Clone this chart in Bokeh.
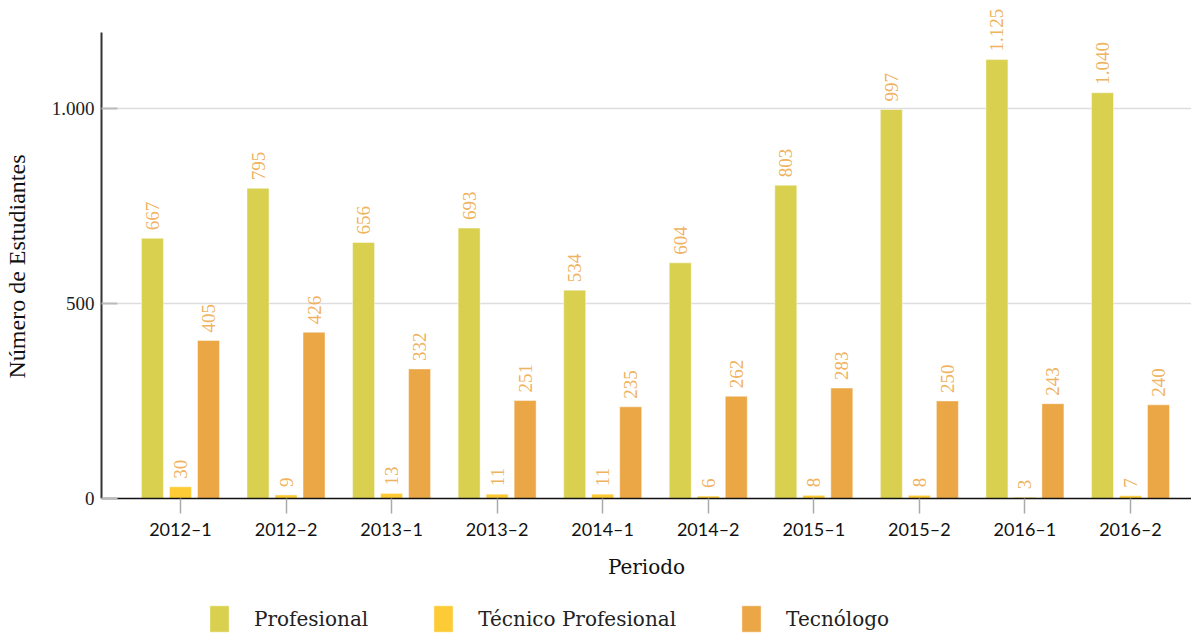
import math
from bokeh.plotting import figure
from bokeh.models import ColumnDataSource, FixedTicker, Range1d, Legend, LegendItem
from bokeh.transform import dodge
from bokeh.core.properties import value
from bokeh.embed import file_html
from bokeh.resources import INLINE

periods = ["2012–1", "2012–2", "2013–1", "2013–2", "2014–1",
           "2014–2", "2015–1", "2015–2", "2016–1", "2016–2"]
profesional = [667, 795, 656, 693, 534, 604, 803, 997, 1125, 1040]
tecnico = [30, 9, 13, 11, 11, 6, 8, 8, 3, 7]
tecnologo = [405, 426, 332, 251, 235, 262, 283, 250, 243, 240]
series_names = ["Profesional", "Técnico Profesional", "Tecnólogo"]
colors = ["#D9D04F", "#FCCB36", "#EBA746"]
y_ticks = [0, 500, 1000]
y_title = "Número de Estudiantes"
x_title = "Periodo"


def fmt(v):
    return f"{v:,}".replace(",", ".")


src = ColumnDataSource(dict(
    x=list(range(len(periods))),
    prof=profesional, tec=tecnico, tgo=tecnologo,
    prof_l=[fmt(v) for v in profesional],
    tec_l=[fmt(v) for v in tecnico],
    tgo_l=[fmt(v) for v in tecnologo],
))

# frame reaches down to the legend; x axis is pinned at y=0
p = figure(frame_width=1090, frame_height=630, output_backend="svg", toolbar_location=None,
           x_range=Range1d(-0.748, 9.578), y_range=Range1d(-359, 1256),
           min_border_top=8, min_border_right=0, min_border_left=100, min_border_bottom=0)
p.outline_line_color = None
p.background_fill_color = "white"
p.border_fill_color = "white"

offs = [-0.2653, 0.0, 0.2653]
cols = ["prof", "tec", "tgo"]
renderers = []
for off, c, col in zip(offs, cols, colors):
    r = p.vbar(x=dodge("x", off, range=p.x_range), top=c, width=0.2084, source=src,
               fill_color=col, line_color="white", line_alpha=0.45, line_width=1)
    renderers.append(r)
    p.text(x=dodge("x", off, range=p.x_range), y=c, text=c + "_l", source=src,
           angle=math.pi / 2, text_align="left", text_baseline="middle",
           y_offset=-8, text_font=value("Liberation Serif"), text_font_size="19px",
           text_color="#EEA94A", text_alpha=0.9)

# axes
xa = p.xaxis[0]
xa.fixed_location = 0
xa.ticker = FixedTicker(ticks=list(range(len(periods))))
xa.major_label_overrides = {i: s for i, s in enumerate(periods)}
xa.axis_line_color = "#111111"
xa.axis_line_width = 1.5
xa.major_tick_in = 0
xa.major_tick_out = 15
xa.major_tick_line_color = "#aaaaaa"
xa.major_tick_line_width = 1.5
xa.minor_tick_line_color = None
xa.major_label_text_font = "Lato"
xa.major_label_text_font_size = "18px"
xa.major_label_text_color = "#111111"
xa.major_label_standoff = 5
xa.axis_label = x_title
xa.axis_label_text_font = "DejaVu Serif"
xa.axis_label_text_font_size = "20px"
xa.axis_label_text_font_style = "normal"
xa.axis_label_text_color = "#111111"
xa.axis_label_standoff = 11

ya = p.yaxis[0]
ya.ticker = FixedTicker(ticks=y_ticks)
ya.bounds = (0, 1195)
ya.major_label_overrides = {t: fmt(t) for t in y_ticks}
ya.axis_line_color = "#333333"
ya.axis_line_width = 2
ya.major_tick_in = 16
ya.major_tick_out = 0
ya.major_tick_line_color = "#bbbbbb"
ya.major_tick_line_width = 2
ya.minor_tick_line_color = None
ya.major_label_text_font = "Liberation Serif"
ya.major_label_text_font_size = "19px"
ya.major_label_text_color = "#222222"
ya.major_label_standoff = 7
# leading no-break spaces lift the centred title to the middle of the bounded axis
ya.axis_label = "\u00a0" * 19 + y_title
ya.axis_label_text_font = "Liberation Serif"
ya.axis_label_text_font_size = "24px"
ya.axis_label_text_font_style = "normal"
ya.axis_label_text_color = "#111111"
ya.axis_label_standoff = 19

p.xgrid.grid_line_color = None
p.ygrid.grid_line_color = "#dddddd"
p.ygrid.grid_line_width = 1.5
p.ygrid.ticker = FixedTicker(ticks=[500, 1000])

legend = Legend(items=[LegendItem(label=n, renderers=[r]) for n, r in zip(series_names, renderers)],
                orientation="horizontal", location=(106, 3),
                glyph_width=24, glyph_height=33, label_standoff=23, spacing=63,
                padding=0, margin=0, border_line_color=None,
                label_text_font="DejaVu Serif", label_text_font_size="20px",
                label_text_color="#222222", background_fill_alpha=0)
p.add_layout(legend, "center")

open("out.html", "w").write(file_html(p, INLINE))
